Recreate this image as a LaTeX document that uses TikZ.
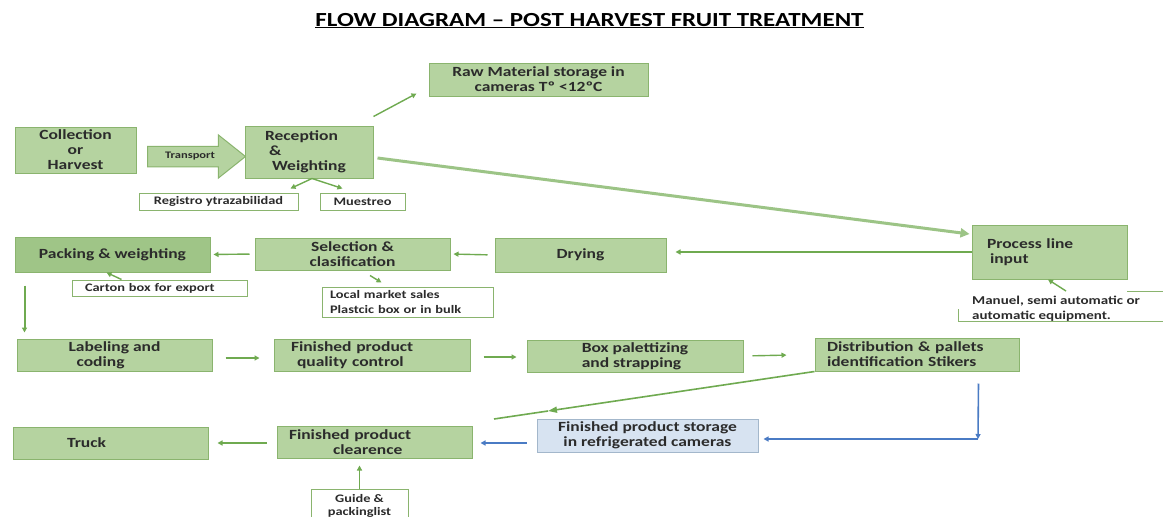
\documentclass[tikz,border=0pt]{standalone}
\usepackage{fontspec}
\setmainfont{Carlito}[FakeStretch=1.25]
\usetikzlibrary{arrows.meta,shapes.arrows}
\definecolor{boxfill}{HTML}{B5D3A0}
\definecolor{packfill}{HTML}{9FC587}
\definecolor{boxline}{HTML}{8AB46E}
\definecolor{arrowg}{HTML}{6FAA50}
\definecolor{lineg}{HTML}{9CC486}
\definecolor{arrowb}{HTML}{4A7BC4}
\definecolor{storfill}{HTML}{D7E3F1}
\definecolor{storline}{HTML}{A3B7CB}
\definecolor{txt}{HTML}{2B2B2B}
\begin{document}
\begin{tikzpicture}[x=1pt,y=-1pt,
  sz/.style 2 args={minimum width=#1pt, minimum height=#2pt},
  box/.style={draw=boxline, fill=boxfill, line width=1pt, text=txt, font=\bfseries\fontsize{14}{15}\selectfont, inner sep=0pt, align=center},
  note/.style={draw=boxline, fill=white, line width=1pt, text=txt, font=\bfseries\fontsize{11.5}{14}\selectfont, inner sep=0pt, align=center},
  txtonly/.style={text=txt, inner sep=0pt, align=left, font=\bfseries\fontsize{12}{15}\selectfont},
  garrow/.style={draw=arrowg, line width=1.4pt, -{Triangle[length=5pt,width=5pt]}},
  longline/.style={draw=lineg, line width=3pt, -{Triangle[length=9pt,width=9pt]}},
  barrow/.style={draw=arrowb, line width=1.6pt, -{Triangle[length=5pt,width=5pt]}}]
\useasboundingbox (0,0) rectangle (1163,517);
\fill[white] (0,0) rectangle (1163,517);

% title
\node[font=\bfseries\fontsize{20}{24}\selectfont, text=black, inner sep=0pt, anchor=base] (title) at (589.5,26) {\underline{FLOW DIAGRAM – POST HARVEST FRUIT TREATMENT}};

% top row
\node[box, sz={121}{46}] (col) at (75.5,150) {Collection\\or\\Harvest};
\node[single arrow, draw=boxline, fill=boxfill, line width=1pt, minimum height=98pt, minimum width=43pt, single arrow head extend=11pt, single arrow tip angle=77, inner ysep=5.5pt, inner xsep=3pt, font=\bfseries\fontsize{10}{12}\selectfont, text=txt, anchor=tail] (tr) at (147,156.5) {Transport};
\node[box, minimum height=52pt, align=left, text width=88pt, inner xsep=20pt] (rec) at (309,152) {Reception\\\hspace*{4pt}\&\\\hspace*{7pt}Weighting};
\node[box, sz={219}{33}] (raw) at (538.5,79.5) {Raw Material storage in\\cameras Tº <12ºC};
\node[note, sz={159}{17}] (reg) at (218.5,201.5) {Registro ytrazabilidad};
\node[note, sz={85}{17}] (mue) at (362.5,201.5) {Muestreo};

% second row
\node[box, minimum height=54pt, align=left, text width=125pt, inner xsep=15pt] (proc) at (1049.5,252) {Process line\\\hspace*{3pt}input};
\node[txtonly, anchor=north west] (man) at (972,296) {Manuel, semi automatic or\\automatic equipment.};
\draw[boxline, line width=1pt] (958,309) |- (1165,321);
\draw[boxline, line width=1pt] (1127,291) -- (1165,291);
\coordinate (mt) at (1066,291);
\node[box, sz={171}{34}] (dry) at (580.5,255) {Drying};
\node[box, sz={195}{32}] (sel) at (352.5,254) {Selection \&\\clasification};
\node[box, fill=packfill, sz={195}{35}] (pack) at (112.5,254.5) {Packing \& weighting};
\node[note, minimum height=16pt, align=left, text width=149pt, inner xsep=13pt] (cart) at (159.5,288) {Carton box for export};
\node[note, minimum height=30pt, align=left, text width=155pt, inner xsep=8pt, font=\bfseries\fontsize{11.5}{15}\selectfont] (loc) at (407.5,302) {Local market sales\\Plastcic box or in bulk};

% third row
\node[box, sz={195}{32}, align=left] (lab) at (114.5,355) {Labeling and\\\hspace*{8pt}coding};
\node[box, minimum height=32pt, align=left, text width=162pt, inner xsep=17pt] (fpqc) at (372,355) {Finished product\\\hspace*{6pt}quality control};
\node[box, sz={216}{32}, align=left] (boxp) at (635,356) {Box palettizing\\and strapping};
\node[box, minimum height=33pt, align=left, text width=180pt, inner xsep=12pt] (dist) at (917,354.5) {Distribution \& pallets\\identification Stikers};

% bottom row
\node[box, fill=storfill, draw=storline, sz={221}{33}] (stor) at (647.5,435.5) {Finished product storage\\in refrigerated cameras};
\node[box, minimum height=32pt, align=left, text width=171pt, inner xsep=12pt] (clr) at (374.5,442) {Finished product\\\hspace*{44pt}clearence};
\node[box, minimum height=32pt, align=left, text width=87pt, inner xsep=54pt] (truck) at (110.5,443) {Truck};
\node[note, sz={97}{34}, font=\bfseries\fontsize{11.5}{13}\selectfont] (guide) at (359.5,506) {Guide \&\\packinglist};

% connectors
\draw[garrow] ([yshift=9pt]rec.north east) -- ([xshift=-12pt,yshift=3pt]raw.south west);
\draw[garrow] ([xshift=3pt]rec.south) -- ([xshift=-8pt,yshift=4pt]reg.north east);
\draw[garrow] ([xshift=3pt]rec.south) -- ([xshift=23pt,yshift=4pt]mue.north west);
\draw[longline] ([xshift=4pt,yshift=-6pt]rec.east) -- ([xshift=-2pt,yshift=18pt]proc.west);
\draw[garrow, line width=2pt, shorten >=9pt] (proc.west) -- (proc.west -| dry.east);
\draw[garrow, shorten <=7pt, shorten >=3pt] (dry.west) -- (sel.east);
\draw[garrow, shorten <=5pt, shorten >=3pt] (sel.west) -- (pack.east);
\draw[garrow] ([xshift=50pt]cart.north west) -- ([xshift=-6pt]pack.south);
\draw[garrow] ([xshift=17.5pt,yshift=-5pt]sel.south) -- ([xshift=60pt,yshift=4pt]loc.north west);
\draw[garrow, line width=2pt] ([xshift=10pt,yshift=-13pt]pack.south west) -- ([xshift=8pt,yshift=6pt]lab.north west);
\draw[garrow, shorten <=13pt, shorten >=14pt] ([yshift=-3pt]lab.east) -- ([yshift=-3pt]fpqc.west);
\draw[garrow, shorten <=13pt, shorten >=10pt] ([yshift=-2pt]fpqc.east) -- ([yshift=-1pt]boxp.west);
\draw[garrow, shorten <=9pt, shorten >=28pt] (boxp.east) -- (dist.west);
\coordinate (dm) at (548,411);
\coordinate (de) at (494,419);
\draw[draw=arrowg, line width=1.6pt, -{Triangle[length=9pt,width=6pt]}] (dist.south west) -- (dm);
\draw[draw=arrowg, line width=1.6pt] (dm) -- (de);
\coordinate (bc) at (978,439);
\draw[barrow] ([xshift=-41pt,yshift=-12pt]dist.south east) -- (bc);
\draw[barrow, shorten >=5pt] (bc) -- (bc -| stor.east);
\draw[barrow, shorten <=10pt, shorten >=8pt] ([yshift=-7.5pt]stor.west) -- ([yshift=-1pt]clr.east);
\draw[garrow, shorten <=10pt, shorten >=9pt] ([yshift=-1pt]clr.west) -- (truck.east);
\draw[garrow, shorten >=7pt] (guide.north) -- (guide.north |- clr.south);
\draw[garrow] (mt) -- ([xshift=-1.5pt]proc.south);
\end{tikzpicture}
\end{document}
